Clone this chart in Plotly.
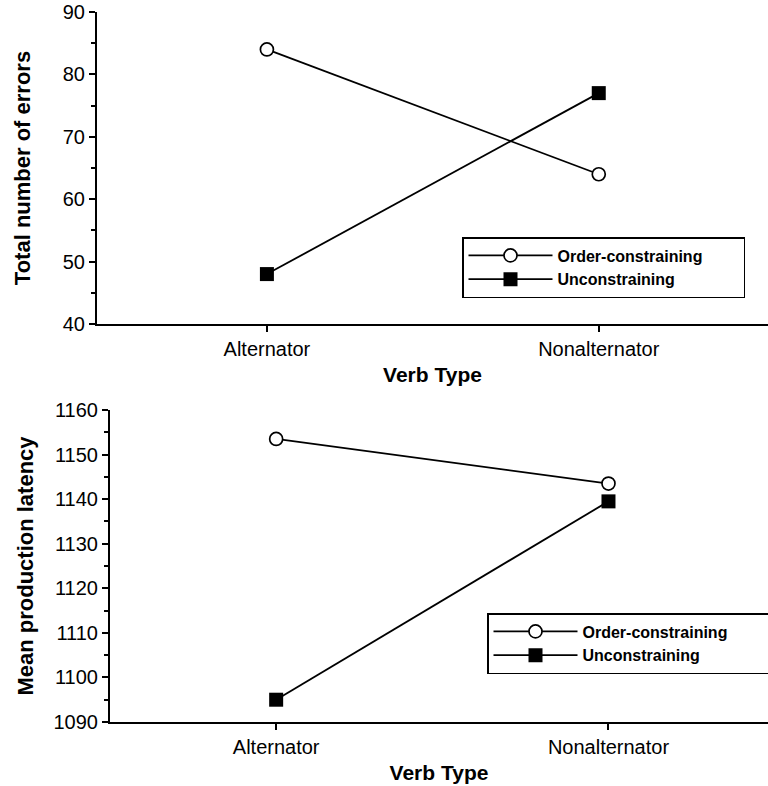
import plotly.graph_objects as go

verb_types = ["Alternator", "Nonalternator"]
series_names = ["Order-constraining", "Unconstraining"]
errors_order = [84, 64]
errors_uncon = [48, 77]
latency_order = [1153.5, 1143.5]
latency_uncon = [1095, 1139.5]

W, H = 768, 786
FONT = "Liberation Sans, Arial, Helvetica, sans-serif"
xpos = [0, 1]
PAD = "\u00a0" * 8


def px(x):
    return x / W


def py(y):
    return (H - y) / H


circle = dict(symbol="circle", size=13, color="white", line=dict(color="black", width=1.7))
square = dict(symbol="square", size=14, color="black", line=dict(color="black", width=0))
line = dict(color="black", width=1.8)

fig = go.Figure()
fig.add_trace(go.Scatter(x=xpos, y=errors_order, mode="lines+markers", name=series_names[0] + PAD,
                         line=line, marker=circle, xaxis="x", yaxis="y", legend="legend"))
fig.add_trace(go.Scatter(x=xpos, y=errors_uncon, mode="lines+markers", name=series_names[1],
                         line=line, marker=square, xaxis="x", yaxis="y", legend="legend"))
fig.add_trace(go.Scatter(x=xpos, y=latency_order, mode="lines+markers", name=series_names[0] + PAD,
                         line=line, marker=circle, xaxis="x2", yaxis="y2", legend="legend2"))
fig.add_trace(go.Scatter(x=xpos, y=latency_uncon, mode="lines+markers", name=series_names[1],
                         line=line, marker=square, xaxis="x2", yaxis="y2", legend="legend2"))

tickfont = dict(family=FONT, size=20, color="black")
xtitlefont = dict(family=FONT, size=21, color="black", weight="bold")
ytitlefont = dict(family=FONT, size=22, color="black", weight="bold")


def xax(domain, anchor, rng):
    return dict(domain=domain, anchor=anchor, range=rng, tickvals=xpos, ticktext=verb_types,
                showline=True, linecolor="black", linewidth=2, ticks="outside", ticklen=6,
                tickcolor="black", tickwidth=1.5, showgrid=False, zeroline=False,
                automargin=False, tickfont=tickfont, ticklabeloverflow="allow",
                title=dict(text="Verb Type", font=xtitlefont, standoff=8))


def yax(domain, anchor, rng, dtick, title, standoff):
    return dict(domain=domain, anchor=anchor, range=rng, dtick=dtick, tick0=rng[0],
                showline=True, linecolor="black", linewidth=2, ticks="outside", ticklen=6,
                tickcolor="black", tickwidth=1.5, showgrid=False, zeroline=False,
                automargin=False, tickfont=tickfont, ticklabeloverflow="allow",
                minor=dict(ticks="outside", ticklen=4, dtick=dtick / 2, tickcolor="black", tickwidth=1.5),
                title=dict(text=title, font=ytitlefont, standoff=standoff))


legfont = dict(family=FONT, size=16, color="black", weight="bold")

fig.update_layout(
    width=W, height=H,
    margin=dict(l=0, r=0, t=0, b=0, autoexpand=False),
    paper_bgcolor="white", plot_bgcolor="white",
    showlegend=True,
    xaxis=xax([px(97), 1.0], "y", [-0.512, 1.51]),
    yaxis=yax([py(324), py(12)], "x", [40, 90], 10, "Total number of errors", 26),
    xaxis2=xax([px(110), 1.0], "y2", [-0.5, 1.48]),
    yaxis2=yax([py(722), py(410)], "x2", [1090, 1160], 10, "Mean production latency", 14),
    legend=dict(x=px(462), y=py(237), xanchor="left", yanchor="top",
                bordercolor="black", borderwidth=1.5, bgcolor="white",
                font=legfont, itemwidth=84, tracegroupgap=0),
    legend2=dict(x=px(487), y=py(613), xanchor="left", yanchor="top",
                 bordercolor="black", borderwidth=1.5, bgcolor="white",
                 font=legfont, itemwidth=84, tracegroupgap=0),
)

# Remove the browser's default 8px body margin so the figure fills the window exactly.
fig.write_html("out.html", config={"displayModeBar": False},
               post_script="document.body.style.margin='0px';")
